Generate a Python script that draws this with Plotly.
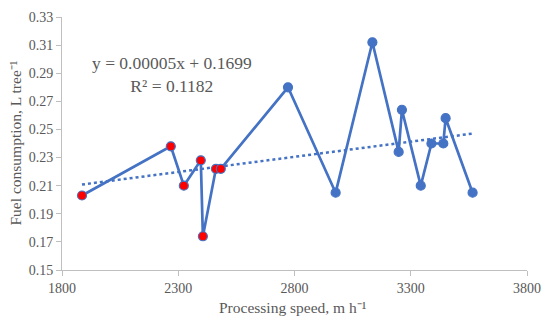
import numpy as np
import plotly.graph_objects as go

speed = [1886, 2268, 2324, 2397, 2406, 2462, 2483, 2772, 2977, 3135, 3248, 3262, 3343, 3389, 3440, 3450, 3566]
fuel = [0.203, 0.238, 0.210, 0.228, 0.174, 0.222, 0.222, 0.280, 0.205, 0.312, 0.234, 0.264, 0.210, 0.240, 0.240, 0.258, 0.205]
highlight = [True] * 7 + [False] * 10
x_ticks = [1800, 2300, 2800, 3300, 3800]
y_ticks = [0.15, 0.17, 0.19, 0.21, 0.23, 0.25, 0.27, 0.29, 0.31, 0.33]
equation_text = "y = 0.00005x + 0.1699<br>R² = 0.1182"
x_title = "Processing speed, m h⁻¹"
y_title = "Fuel consumption, L tree⁻¹"

BLUE = "#4472C4"
RED = "#FF0000"
FONT = "Liberation Serif"
GRAY = "#595959"

slope, intercept = np.polyfit(speed, fuel, 1)
trend_x = [min(speed), max(speed)]
trend_y = [slope * v + intercept for v in trend_x]

fig = go.Figure()
fig.add_trace(go.Scatter(
    x=trend_x, y=trend_y, mode="lines",
    line=dict(color=BLUE, width=2.5, dash="dot"),
    hoverinfo="skip", showlegend=False,
))
fig.add_trace(go.Scatter(
    x=speed, y=fuel, mode="lines+markers",
    line=dict(color=BLUE, width=2.7),
    marker=dict(size=9, color=[RED if h else BLUE for h in highlight],
                line=dict(color=BLUE, width=1.2)),
    showlegend=False,
))

# plot area in window pixels: left 62, right 527, top 17, bottom 270
PL, PR, PT, PB = 62, 527, 17, 270
fig.add_annotation(
    x=(172 - PL) / (PR - PL), y=(PB - 74) / (PB - PT),
    xref="paper", yref="paper", text=equation_text, showarrow=False,
    xanchor="center", yanchor="middle",
    font=dict(family=FONT, size=17.5, color=GRAY), align="center",
)
fig.add_annotation(
    x=0.5, y=0, xref="paper", yref="paper", yshift=-(307 - PB), xshift=-2,
    text=x_title, showarrow=False, yanchor="middle", xanchor="center",
    font=dict(family=FONT, size=15.5, color=GRAY),
)
fig.add_annotation(
    x=0, y=0.5, xref="paper", yref="paper", xshift=-(PL - 15),
    text=y_title, showarrow=False, textangle=-90, xanchor="center", yanchor="middle",
    font=dict(family=FONT, size=15.5, color=GRAY),
)

axis_common = dict(
    showgrid=False, zeroline=False, showline=True, linecolor="#BFBFBF", linewidth=1,
    ticks="outside", ticklen=5, tickcolor="#BFBFBF", tickwidth=1,
    tickfont=dict(family=FONT, size=14, color=GRAY), automargin=False,
    ticklabeloverflow="allow",
)

fig.update_xaxes(range=[1800, 3800], tickvals=x_ticks, ticktext=[str(v) for v in x_ticks], **axis_common)
fig.update_yaxes(range=[0.15, 0.33], tickvals=y_ticks, ticktext=[f"{v:.2f}" for v in y_ticks], **axis_common)

# page body has an 8px margin, so the figure is sized to fit the remaining window
OFF = 8
W, H = 550 - OFF, 325 - OFF
fig.update_layout(
    width=W, height=H,
    margin=dict(l=PL - OFF, r=550 - PR, t=PT - OFF, b=325 - PB),
    paper_bgcolor="white", plot_bgcolor="white",
)

fig.write_html("out.html")
